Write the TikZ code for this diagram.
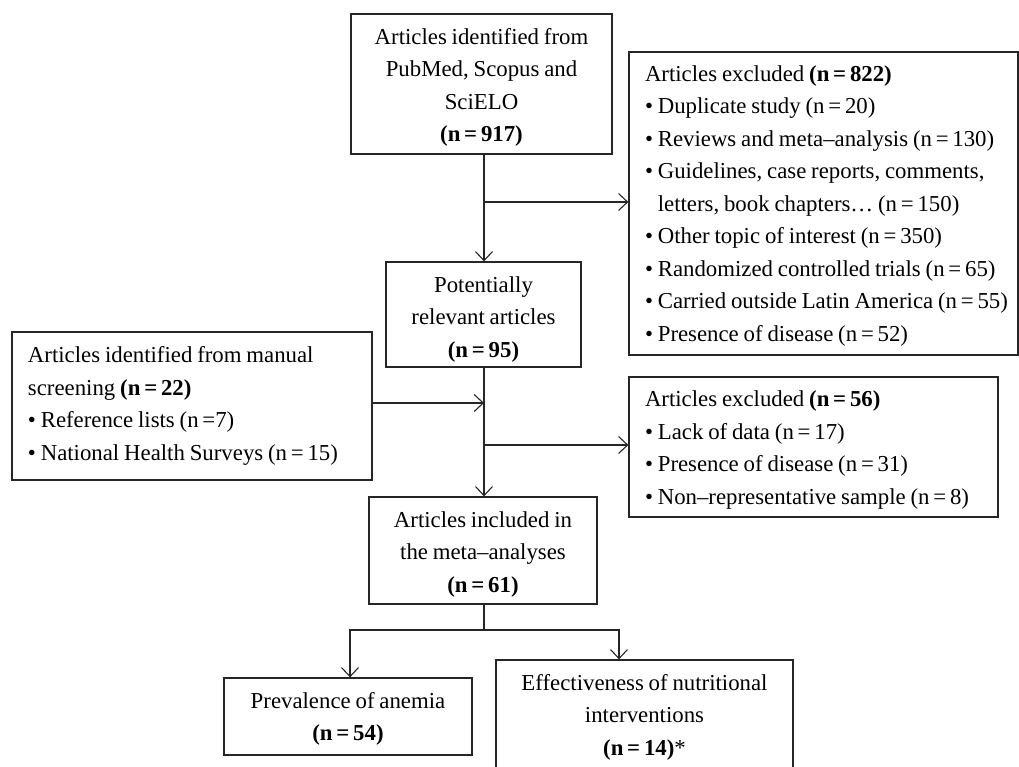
\documentclass[tikz,border=0pt]{standalone}
\usepackage{fontspec}
\setmainfont{Liberation Serif}[WordSpace=0.85]
\usetikzlibrary{arrows.meta}
\newcommand\lpad{\leftskip=16pt\relax\rightskip=-30pt plus 1fil\relax
  \spaceskip=\fontdimen2\font\relax\xspaceskip=\fontdimen2\font\relax}
\newcommand\tp[1]{\rule{0pt}{#1pt}}
\begin{document}
\begin{tikzpicture}[x=1pt,y=-1pt,
  box/.style={draw=black!85,line width=1.3pt,inner sep=0pt,
    font=\fontsize{22.8}{32.5}\selectfont},
  cbox/.style={box,align=center},
  lbox/.style={box,align=left},
  conn/.style={draw=black!85,line width=1.2pt},
  arr/.style={conn,-{Straight Barb[length=9pt,width=17pt,line width=1.1pt]}}
]
\useasboundingbox (0,0) rectangle (1019,767);
\node[cbox,minimum width=261pt,minimum height=140pt] (A) at (481.5,84)
  {\tp{23}Articles identified from\\PubMed, Scopus and\\SciELO\\\textbf{(n\,=\,917)}};
\node[lbox,minimum width=389pt,minimum height=303pt,text width=389pt] (B) at (823.5,203.5)
  {\lpad\tp{20}Articles excluded \textbf{(n\,=\,822)}\\
   \textbullet\ Duplicate study (n\,=\,20)\\
   \textbullet\ Reviews and meta--analysis (n\,=\,130)\\
   \textbullet\ Guidelines, case reports, comments,\\
   \hphantom{\textbullet\ }letters, book chapters\dots\ (n\,=\,150)\\
   \textbullet\ Other topic of interest (n\,=\,350)\\
   \textbullet\ Randomized controlled trials (n\,=\,65)\\
   \textbullet\ Carried outside Latin America (n\,=\,55)\\
   \textbullet\ Presence of disease (n\,=\,52)\par};
\node[cbox,minimum width=195pt,minimum height=105pt] (C) at (483.5,314.5)
  {\tp{25}Potentially\\relevant articles\\\textbf{(n\,=\,95)}};
\node[lbox,minimum width=360pt,minimum height=148pt,text width=360pt] (D) at (192,406)
  {\lpad Articles identified from manual\\screening \textbf{(n\,=\,22)}\\
   \textbullet\ Reference lists (n\,=7)\\
   \textbullet\ National Health Surveys (n\,=\,15)\par};
\node[lbox,minimum width=369pt,minimum height=140pt,text width=369pt] (F) at (813.5,447)
  {\lpad\tp{22}Articles excluded \textbf{(n\,=\,56)}\\
   \textbullet\ Lack of data (n\,=\,17)\\
   \textbullet\ Presence of disease (n\,=\,31)\\
   \textbullet\ Non--representative sample (n\,=\,8)\par};
\node[cbox,minimum width=228pt,minimum height=107pt] (E) at (483,550.5)
  {\tp{23}Articles included in\\the meta--analyses\\\textbf{(n\,=\,61)}};
\node[cbox,minimum width=248pt,minimum height=77pt] (G) at (348,716.5)
  {\tp{21}Prevalence of anemia\\\textbf{(n\,=\,54)}};
\node[cbox,minimum width=297pt,minimum height=114pt] (H) at (644.5,717)
  {Effectiveness of nutritional\\interventions\\\textbf{(n\,=\,14)}*};
\coordinate (j1) at (484,202);
\coordinate (j2) at (484,403);
\coordinate (j3) at (484,445);
\coordinate (j4) at (484,630);
\coordinate (bl) at (350,630);
\coordinate (br) at (619,630);
\draw[arr] (A.south -| j1) -- (C.north -| j1);
\draw[arr] (j1) -- (j1 -| B.west);
\draw[arr] (C.south -| j1) -- (E.north -| j1);
\draw[arr] (D.east |- j2) -- (j2);
\draw[arr] (j3) -- (j3 -| F.west);
\draw[conn] (E.south -| j4) -- (j4);
\draw[arr] (j4) -- (bl) -- (G.north -| bl);
\draw[arr] (j4) -- (br) -- (H.north -| br);
\end{tikzpicture}
\end{document}
